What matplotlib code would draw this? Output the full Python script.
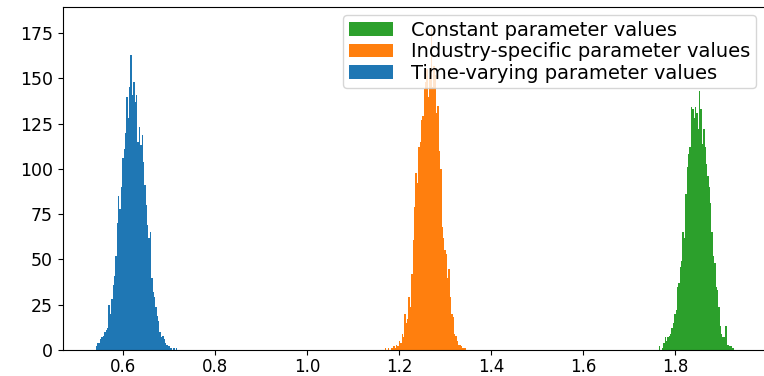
import matplotlib
matplotlib.use("Agg")
import matplotlib.pyplot as plt
import numpy as np

# Histogram counts (bin width 0.003)
bin_width = 0.003

time_varying_start = 0.5413
time_varying_counts = [2, 4, 4, 6, 7, 8, 10, 11, 12, 25, 20, 28, 36, 41, 52, 70, 85, 78,
                       90, 106, 111, 120, 140, 128, 145, 163, 141, 148, 137, 141, 115, 123,
                       113, 119, 104, 91, 80, 69, 62, 65, 40, 32, 29, 24, 19, 16, 10, 7, 8,
                       6, 4, 3, 2, 2, 1, 0, 1, 0, 1]

industry_start = 1.1696
industry_counts = [1, 0, 1, 0, 1, 1, 2, 1, 3, 2, 5, 4, 9, 7, 20, 15, 17, 29, 24, 42, 61,
                   79, 98, 92, 112, 115, 127, 129, 144, 148, 155, 140, 150, 178, 145, 157,
                   152, 131, 135, 110, 100, 68, 62, 55, 53, 40, 45, 29, 20, 18, 9, 8, 5,
                   3, 3, 2, 1, 1, 1]

constant_start = 1.7652
constant_counts = [2, 0, 1, 4, 7, 5, 7, 8, 9, 12, 15, 20, 22, 35, 37, 46, 49, 65, 62, 86,
                   101, 108, 112, 134, 133, 128, 134, 131, 122, 143, 133, 114, 122, 112,
                   103, 96, 90, 81, 65, 52, 48, 35, 33, 24, 13, 9, 7, 7, 13, 3, 3, 2, 2, 1]

labels = ["Constant parameter values",
          "Industry-specific parameter values",
          "Time-varying parameter values"]
colors = ["#2ca02c", "#ff7f0e", "#1f77b4"]

W, H = 764, 376
fig = plt.figure(figsize=(W / 100, H / 100), dpi=100)
ax = fig.add_axes([62.7 / W, 26 / H, 706.3 / W, 342.7 / H])

series = [(constant_start, constant_counts),
          (industry_start, industry_counts),
          (time_varying_start, time_varying_counts)]
for (start, counts), lab, col in zip(series, labels, colors):
    counts = np.asarray(counts, dtype=float)
    edges = start + bin_width * np.arange(len(counts))
    ax.bar(edges, counts, width=bin_width, align="edge", color=col,
           linewidth=0, label=lab)

ax.set_xlim(0.469, 2.0043)
ax.set_ylim(0, 189.3)
ax.set_xticks([0.6, 0.8, 1.0, 1.2, 1.4, 1.6, 1.8])
ax.set_yticks([0, 25, 50, 75, 100, 125, 150, 175])
ax.tick_params(axis="x", labelsize=12, pad=2.5)
ax.tick_params(axis="y", labelsize=12.5)

ax.legend(loc="upper right", fontsize=14, handlelength=2.3,
          handletextpad=0.9, labelspacing=0.12, borderpad=0.3,
          bbox_to_anchor=(0.9816, 0.9775), borderaxespad=0.0)

fig.savefig("out.png", dpi=100)
